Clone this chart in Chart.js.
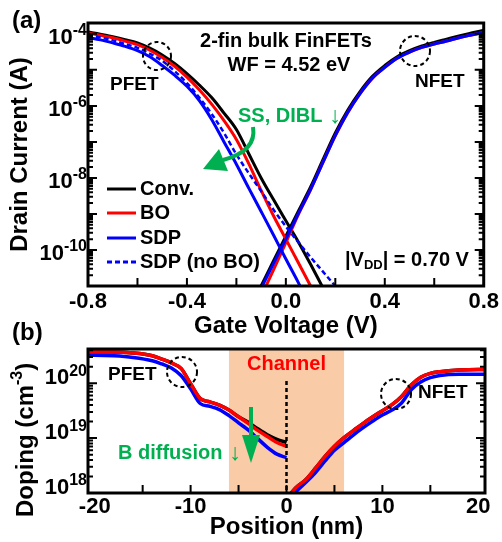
<!DOCTYPE html>
<html>
<head>
<meta charset="utf-8">
<title>2-fin bulk FinFETs</title>
<script src="https://cdn.jsdelivr.net/npm/chart.js@4.4.1/dist/chart.umd.min.js"></script>
<style>
  html, body { margin: 0; padding: 0; background: #fff; }
  #page { position: relative; width: 502px; height: 542px; overflow: hidden; }
  #chartA { position: absolute; left: 0; top: 0; }
  #chartB { position: absolute; left: 0; top: 318px; }
</style>
</head>
<body>
<div id="page">
  <canvas id="chartA" width="502" height="345"></canvas>
  <canvas id="chartB" width="502" height="224"></canvas>
</div>
<script>
var FONT = "'Liberation Sans', Arial, sans-serif";
var GREEN = '#00B050';
var RED = '#FF0000';
var BLUE = '#0000FF';

/* ------------------------------ (a) Id - Vg ------------------------------ */

var vgsP = [-0.8, -0.75, -0.7, -0.65, -0.6, -0.55, -0.5, -0.45, -0.4, -0.35, -0.3,
            -0.25, -0.2, -0.15, -0.1, -0.05, 0, 0.05, 0.1, 0.15, 0.2, 0.25];
var vgsN = [-0.15, -0.1, -0.05, 0, 0.05, 0.1, 0.15, 0.2, 0.25, 0.3, 0.35, 0.4,
            0.45, 0.5, 0.55, 0.6, 0.65, 0.7, 0.75, 0.8];

// PFET branches (A)
var convP = [1.12e-4, 9.8e-5, 8.3e-5, 6.9e-5, 5.6e-5, 4.0e-5, 2.6e-5, 1.5e-5, 7.9e-6, 3.8e-6, 1.7e-6,
             6.3e-7, 2.2e-7, 4.7e-8, 1.0e-8, 2.5e-9, 6.5e-10, 1.7e-10, 4.0e-11, 8.9e-12, 2.0e-12];
var boP = [1.05e-4, 9.1e-5, 7.8e-5, 6.3e-5, 5.0e-5, 3.5e-5, 2.2e-5, 1.26e-5, 6.3e-6, 2.8e-6, 1.12e-6,
           3.9e-7, 1.17e-7, 2.5e-8, 4.5e-9, 8.9e-10, 2.0e-10, 4.5e-11, 1.0e-11, 2.2e-12];
var sdpP = [7.9e-5, 6.8e-5, 5.6e-5, 4.5e-5, 3.4e-5, 2.3e-5, 1.32e-5, 7.1e-6, 3.5e-6, 1.41e-6, 4.2e-7,
            1.0e-7, 2.4e-8, 5.2e-9, 1.17e-9, 2.6e-10, 5.6e-11, 1.26e-11, 2.5e-12];
var sdpNoBoP = [9.3e-5, 7.9e-5, 6.6e-5, 5.2e-5, 4.1e-5, 2.8e-5, 1.78e-5, 9.3e-6, 4.3e-6, 1.7e-6, 6.0e-7,
                1.78e-7, 4.5e-8, 1.35e-8, 4.3e-9, 1.32e-9, 4.5e-10, 1.66e-10, 6.3e-11, 2.5e-11, 1.0e-11, 4.0e-12];

// NFET branches (A)
var convN = [2.0e-12, 1.0e-11, 5.0e-11, 2.4e-10, 1.17e-9, 5.6e-9, 3.2e-8, 1.78e-7, 7.6e-7, 2.5e-6,
             6.6e-6, 1.32e-5, 2.3e-5, 3.4e-5, 4.6e-5, 5.8e-5, 7.1e-5, 8.7e-5, 1.05e-4, 1.26e-4];
var boN = [8.0e-13, 5.0e-12, 2.8e-11, 1.6e-10, 9.5e-10, 4.7e-9, 2.7e-8, 1.5e-7, 6.5e-7, 2.2e-6,
           5.9e-6, 1.17e-5, 2.1e-5, 3.1e-5, 4.2e-5, 5.2e-5, 6.3e-5, 7.8e-5, 9.3e-5, 1.1e-4];
var sdpN = [1.6e-12, 8.5e-12, 4.2e-11, 2.0e-10, 1.0e-9, 4.8e-9, 2.7e-8, 1.5e-7, 6.6e-7, 2.2e-6,
            5.9e-6, 1.17e-5, 2.1e-5, 3.1e-5, 4.2e-5, 5.2e-5, 6.3e-5, 7.8e-5, 9.3e-5, 1.1e-4];

var vgLabels = [-0.8, -0.4, 0, 0.4, 0.8];
var vgMarks = [-0.6, -0.4, -0.2, 0, 0.2, 0.4, 0.6];
var idExpLabels = [-4, -6, -8, -10];

/* ------------------------------ (b) doping ------------------------------- */

var posP = [-21, -20, -18, -16, -14, -13, -12, -11, -10, -9, -8, -7, -6, -5, -4, -3, -2, -1, 0];
var posN = [0, 1, 2, 3, 4, 5, 6, 7, 8, 9, 10, 11, 12, 13, 14, 15, 16, 18, 20, 21];

var dopConvP = [3.7e20, 3.7e20, 3.7e20, 3.55e20, 3.16e20, 2.75e20, 2.34e20, 1.86e20, 9.8e19, 5.25e19,
                4.57e19, 3.98e19, 3.24e19, 2.45e19, 1.95e19, 1.48e19, 1.15e19, 9.5e18, 8.3e18];
var dopBoP = [3.7e20, 3.7e20, 3.7e20, 3.55e20, 3.16e20, 2.75e20, 2.34e20, 1.86e20, 9.8e19, 5.25e19,
              4.57e19, 3.98e19, 3.24e19, 2.45e19, 1.86e19, 1.38e19, 1.07e19, 8.3e18, 7.1e18];
var dopSdpP = [3.24e20, 3.24e20, 3.16e20, 2.95e20, 2.57e20, 2.24e20, 1.9e20, 1.38e20, 7.9e19, 4.27e19,
               3.8e19, 3.31e19, 2.57e19, 1.9e19, 1.41e19, 9.8e18, 6.8e18, 5.1e18, 4.4e18];

var dopConvN = [7.9e17, 1.26e18, 1.74e18, 2.8e18, 4.6e18, 7.1e18, 1.02e19, 1.38e19, 1.86e19, 2.45e19,
                3.16e19, 4.07e19, 5.75e19, 9.3e19, 1.29e20, 1.51e20, 1.62e20, 1.74e20, 1.78e20, 1.78e20];
var dopBoN = [7.9e17, 1.26e18, 1.74e18, 2.8e18, 4.6e18, 7.1e18, 1.02e19, 1.38e19, 1.86e19, 2.45e19,
              3.16e19, 4.07e19, 5.75e19, 9.3e19, 1.29e20, 1.51e20, 1.62e20, 1.74e20, 1.78e20, 1.78e20];
var dopSdpN = [7.6e17, 1.07e18, 1.55e18, 2.34e18, 3.8e18, 6.0e18, 8.3e18, 1.15e19, 1.55e19, 2.04e19,
               2.63e19, 3.24e19, 4.37e19, 7.6e19, 1.05e20, 1.26e20, 1.38e20, 1.45e20, 1.45e20, 1.45e20];

var posLabels = [-20, -10, 0, 10, 20];
var posMarks = [-15, -10, -5, 0, 5, 10, 15];
var dopExpLabels = [18, 19, 20];
var channel = [-6, 6];

Chart.defaults.font.family = FONT;
Chart.defaults.color = '#000';

function pts(xs, ys) {
  return ys.map(function (v, i) { return { x: xs[i], y: v }; });
}

function curve(xs, ys, color, width, order, dash) {
  return {
    data: pts(xs, ys), borderColor: color, borderWidth: width, borderDash: dash || [],
    pointRadius: 0, fill: false, cubicInterpolationMode: 'monotone', order: order, clip: 1
  };
}

function txt(ctx, s, x, y, size, color, align, weight) {
  ctx.font = (weight || 'bold') + ' ' + size + 'px ' + FONT;
  ctx.fillStyle = color || '#000';
  ctx.textAlign = align || 'left';
  ctx.textBaseline = 'middle';
  ctx.fillText(s, x, y);
  return ctx.measureText(s).width;
}

function circle(ctx, x, y, r) {
  ctx.save();
  ctx.setLineDash([4, 3]);
  ctx.lineWidth = 2;
  ctx.strokeStyle = '#000';
  ctx.beginPath();
  ctx.arc(x, y, r, 0, Math.PI * 2);
  ctx.stroke();
  ctx.restore();
}

// inward tick marks (bottom, left, right) and the thick box
function frame(chart, xMarks, eMin, eMax) {
  var ctx = chart.ctx, a = chart.chartArea, xs = chart.scales.x, ys = chart.scales.y;
  ctx.save();
  ctx.strokeStyle = '#000';
  ctx.lineWidth = 2;
  ctx.beginPath();
  xMarks.forEach(function (v) {
    var px = xs.getPixelForValue(v);
    ctx.moveTo(px, a.bottom);
    ctx.lineTo(px, a.bottom - 8);
  });
  for (var e = eMin; e <= eMax; e++) {
    for (var k = 1; k < 10; k++) {
      var v = k * Math.pow(10, e);
      if (v < ys.min * 0.999 || v > ys.max * 1.001) continue;
      var py = ys.getPixelForValue(v), len = k === 1 ? 9 : 5;
      ctx.moveTo(a.left, py); ctx.lineTo(a.left + len, py);
      ctx.moveTo(a.right, py); ctx.lineTo(a.right - len, py);
    }
  }
  ctx.stroke();
  ctx.lineWidth = 3;
  ctx.strokeRect(a.left, a.top, a.right - a.left, a.bottom - a.top);
  ctx.restore();
}

// "10" with a raised exponent, right aligned against the axis
function powLabels(chart, exps, dy) {
  var ctx = chart.ctx, ys = chart.scales.y;
  exps.forEach(function (e) {
    var py = ys.getPixelForValue(Math.pow(10, e)) + dy;
    var w = txt(ctx, String(e), 87, py - 7, 16, '#000', 'right');
    txt(ctx, '10', 87 - w, py, 22, '#000', 'right');
  });
}

var annotA = {
  id: 'annotA',
  afterDraw: function (chart) {
    var ctx = chart.ctx;
    frame(chart, vgMarks, -11, -4);
    powLabels(chart, idExpLabels, 4);

    txt(ctx, '(a)', 12, 21, 24);
    txt(ctx, '2-fin bulk FinFETs', 286, 41, 20, '#000', 'center');
    txt(ctx, 'WF = 4.52 eV', 289, 65, 20, '#000', 'center');
    txt(ctx, 'PFET', 110, 85, 19);
    txt(ctx, 'NFET', 415, 82, 19);
    circle(ctx, 157, 56, 14);
    circle(ctx, 415, 51, 15);

    var w = txt(ctx, 'SS, DIBL', 238, 116, 20, GREEN);
    txt(ctx, '\u2193', 238 + w + 7, 117, 23, GREEN, 'left', 'normal');

    // curved green arrow
    ctx.save();
    ctx.strokeStyle = GREEN;
    ctx.fillStyle = GREEN;
    ctx.lineWidth = 4;
    ctx.beginPath();
    ctx.moveTo(253, 127);
    ctx.quadraticCurveTo(257, 151, 223, 160);
    ctx.stroke();
    ctx.beginPath();
    ctx.moveTo(203, 169);
    ctx.lineTo(219, 149);
    ctx.lineTo(228, 171);
    ctx.closePath();
    ctx.fill();
    ctx.restore();

    // legend
    var rows = [['Conv.', '#000', []], ['BO', RED, []], ['SDP', BLUE, []], ['SDP (no BO)', BLUE, [5, 3]]];
    var rowY = [189, 213, 238, 262];
    rows.forEach(function (r, i) {
      ctx.save();
      ctx.strokeStyle = r[1];
      ctx.lineWidth = 3;
      ctx.setLineDash(r[2]);
      ctx.beginPath();
      ctx.moveTo(107, rowY[i]);
      ctx.lineTo(136, rowY[i]);
      ctx.stroke();
      ctx.restore();
      txt(ctx, r[0], 140, rowY[i], 20);
    });

    var x0 = 345, yv = 260;
    var w1 = txt(ctx, '|V', x0, yv, 20);
    var w2 = txt(ctx, 'DD', x0 + w1, yv + 5, 13);
    txt(ctx, '| = 0.70 V', x0 + w1 + w2, yv, 20);
  }
};

var annotB = {
  id: 'annotB',
  beforeDatasetsDraw: function (chart) {
    var ctx = chart.ctx, a = chart.chartArea, xs = chart.scales.x;
    var x0 = xs.getPixelForValue(channel[0]), x1 = xs.getPixelForValue(channel[1]);
    ctx.save();
    ctx.fillStyle = '#F9CBA6';
    ctx.fillRect(x0, a.top, x1 - x0, a.bottom - a.top);
    ctx.restore();
  },
  afterDraw: function (chart) {
    var ctx = chart.ctx, a = chart.chartArea, xs = chart.scales.x, ys = chart.scales.y;

    // dashed divider at 0 nm
    var px = xs.getPixelForValue(0);
    ctx.save();
    ctx.strokeStyle = '#000';
    ctx.lineWidth = 2.5;
    ctx.setLineDash([4, 3]);
    ctx.beginPath();
    ctx.moveTo(px, ys.getPixelForValue(1.1e20));
    ctx.lineTo(px, a.bottom);
    ctx.stroke();
    ctx.restore();

    frame(chart, posMarks, 18, 20);
    powLabels(chart, dopExpLabels, -5);

    // y title with superscript
    ctx.save();
    ctx.translate(26, 199);
    ctx.rotate(-Math.PI / 2);
    var t1 = txt(ctx, 'Doping (cm', 0, 0, 24);
    var t2 = txt(ctx, '-3', t1, -8, 16);
    txt(ctx, ')', t1 + t2, 0, 24);
    ctx.restore();

    txt(ctx, '(b)', 12, 15, 24);
    txt(ctx, 'Channel', px, 46, 20, RED, 'center');
    txt(ctx, 'PFET', 108, 57, 19);
    txt(ctx, 'NFET', 418, 75, 19);
    circle(ctx, 182, 54, 15);
    circle(ctx, 396, 76, 15);

    var w = txt(ctx, 'B diffusion', 118, 135, 20, GREEN);
    txt(ctx, '\u2193', 118 + w + 7, 136, 23, GREEN, 'left', 'normal');

    // straight green arrow
    ctx.save();
    ctx.strokeStyle = GREEN;
    ctx.fillStyle = GREEN;
    ctx.lineWidth = 4;
    ctx.beginPath();
    ctx.moveTo(251, 89);
    ctx.lineTo(251, 120);
    ctx.stroke();
    ctx.beginPath();
    ctx.moveTo(242, 117);
    ctx.lineTo(260, 117);
    ctx.lineTo(251, 145);
    ctx.closePath();
    ctx.fill();
    ctx.restore();
  }
};

function xAxis(min, max, labels, title, height, tickPad, titlePad, fmt) {
  return {
    type: 'linear', min: min, max: max,
    afterBuildTicks: function (s) { s.ticks = labels.map(function (v) { return { value: v }; }); },
    afterFit: function (s) { s.height = height; },
    grid: { display: false, drawTicks: false },
    border: { display: false },
    ticks: { padding: tickPad, maxRotation: 0, autoSkip: false,
             font: { size: 22, weight: 'bold' }, callback: fmt },
    title: { display: true, text: title, font: { size: 24, weight: 'bold' },
             padding: { top: 0, bottom: titlePad } }
  };
}

new Chart(document.getElementById('chartA'), {
  type: 'line',
  data: {
    datasets: [
      curve(vgsP, sdpP, BLUE, 3, 0),
      curve(vgsN, sdpN, BLUE, 3, 0),
      curve(vgsP, sdpNoBoP, BLUE, 2.5, 1, [5, 3]),
      curve(vgsP, boP, RED, 3, 2),
      curve(vgsN, boN, RED, 3, 2),
      curve(vgsP, convP, '#000', 3, 3),
      curve(vgsN, convN, '#000', 3, 3)
    ]
  },
  options: {
    responsive: false, animation: false, devicePixelRatio: 1,
    layout: { padding: { left: 0, top: 23, right: 17, bottom: 0 } },
    plugins: { legend: { display: false }, tooltip: { enabled: false } },
    scales: {
      x: xAxis(-0.8, 0.8, vgLabels, 'Gate Voltage (V)', 59, 3, 4,
               function (v) { return v.toFixed(1); }),
      y: {
        type: 'logarithmic', min: 1e-11, max: 2e-4,
        afterFit: function (s) { s.width = 88; },
        grid: { display: false, drawTicks: false },
        border: { display: false },
        ticks: { display: false },
        title: { display: true, text: 'Drain Current (A)', font: { size: 24, weight: 'bold' },
                 padding: { top: 6, bottom: 0 } }
      }
    }
  },
  plugins: [annotA]
});

new Chart(document.getElementById('chartB'), {
  type: 'line',
  data: {
    datasets: [
      curve(posP, dopBoP, RED, 3.5, 0),
      curve(posN, dopBoN, RED, 3.5, 0),
      curve(posP, dopConvP, '#000', 3.5, 1),
      curve(posN, dopConvN, '#000', 3.5, 1),
      curve(posP, dopSdpP, BLUE, 3.5, 2),
      curve(posN, dopSdpN, BLUE, 3.5, 2)
    ]
  },
  options: {
    responsive: false, animation: false, devicePixelRatio: 1,
    layout: { padding: { left: 0, top: 31, right: 17, bottom: 0 } },
    plugins: { legend: { display: false }, tooltip: { enabled: false } },
    scales: {
      x: xAxis(-20.7, 20.7, posLabels, 'Position (nm)', 49, 1, 0,
               function (v) { return String(v); }),
      y: {
        type: 'logarithmic', min: 1e18, max: 4.2e20,
        afterFit: function (s) { s.width = 88; },
        grid: { display: false, drawTicks: false },
        border: { display: false },
        ticks: { display: false }
      }
    }
  },
  plugins: [annotB]
});
</script>
</body>
</html>
